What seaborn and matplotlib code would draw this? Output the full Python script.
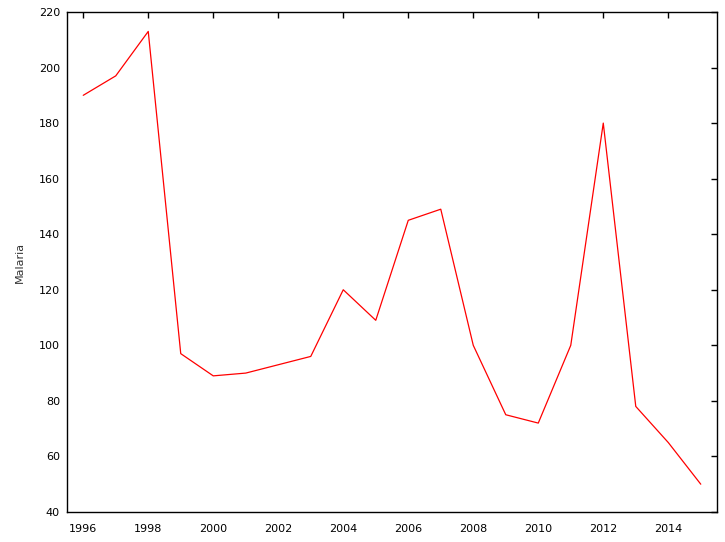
import pandas as pd
import numpy as np
import matplotlib
matplotlib.use("Agg")
import matplotlib.pyplot as plt
import seaborn as sns

years = [1996, 1997, 1998, 1999, 2000, 2001, 2002, 2003, 2004, 2005,
         2006, 2007, 2008, 2009, 2010, 2011, 2012, 2013, 2014, 2015]
malaria = [190, 197, 213, 97, 89, 90, 93, 96, 120, 109,
           145, 149, 100, 75, 72, 100, 180, 78, 65, 50]
xticks = [1996, 1998, 2000, 2002, 2004, 2006, 2008, 2010, 2012, 2014]
yticks = [40, 60, 80, 100, 120, 140, 160, 180, 200, 220]

df = pd.DataFrame({"Year": years, "Malaria": malaria})

sns.set_style("white")
plt.rcParams["font.family"] = ["DejaVu Sans"]
plt.rcParams["font.size"] = 8

fig = plt.figure(figsize=(7.25, 5.42), dpi=100)
ax = fig.add_axes([0.0924, 0.0554, 0.8966, 0.9225])

sns.lineplot(data=df, x="Year", y="Malaria", color="red", linewidth=0.9, ax=ax)

ax.set_xlim(1995.5, 2015.5)
ax.set_ylim(40, 220)
ax.set_xticks(xticks)
ax.set_yticks(yticks)
ax.set_xlabel("")
ax.set_ylabel("Malaria", labelpad=10, color="#333333")
ax.tick_params(direction="in", length=4, width=1, top=True, right=True,
               colors="black", labelsize=8)
ax.tick_params(axis="x", pad=9)
ax.tick_params(axis="y", pad=5)
for s in ax.spines.values():
    s.set_color("black")
    s.set_linewidth(1)

plt.savefig("out.png", dpi=100)
